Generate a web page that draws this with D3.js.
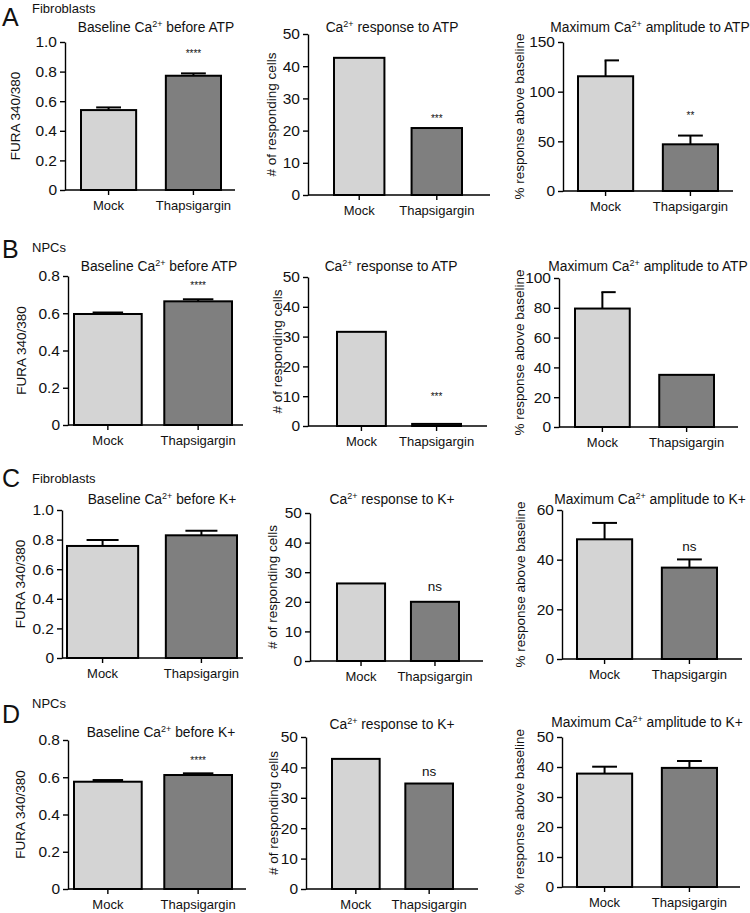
<!DOCTYPE html>
<html>
<head>
<meta charset="utf-8">
<script src="https://cdn.jsdelivr.net/npm/d3@7"></script>
<style>
  html, body { margin: 0; padding: 0; background: #fff; }
  svg { display: block; font-family: "Liberation Sans", Arial, Helvetica, sans-serif; }
</style>
</head>
<body>
<svg id="chart" width="750" height="913"></svg>
<script>
// ---------------- DATA ----------------
const categories = ["Mock", "Thapsigargin"];

const rowLetters = ["A", "B", "C", "D"];
const rowSubtitles = ["Fibroblasts", "NPCs", "Fibroblasts", "NPCs"];

const panelTitles = [
  "Baseline Ca2+ before ATP", "Ca2+ response to ATP", "Maximum Ca2+ amplitude to ATP",
  "Baseline Ca2+ before ATP", "Ca2+ response to ATP", "Maximum Ca2+ amplitude to ATP",
  "Baseline Ca2+ before K+", "Ca2+ response to K+", "Maximum Ca2+ amplitude to K+",
  "Baseline Ca2+ before K+", "Ca2+ response to K+", "Maximum Ca2+ amplitude to K+"
];

const yAxisLabels = [
  "FURA 340/380", "# of responding cells", "% response above baseline",
  "FURA 340/380", "# of responding cells", "% response above baseline",
  "FURA 340/380", "# of responding cells", "% response above baseline",
  "FURA 340/380", "# of responding cells", "% response above baseline"
];

const mockValues = [0.54, 42.6, 115.5, 0.596, 31.6, 79.5, 0.757, 26.2, 48.2, 0.576, 42.8, 37.8];
const thapValues = [0.772, 20.8, 47.0, 0.664, 0.7, 35.0, 0.829, 20.0, 36.8, 0.612, 34.7, 39.7];
const mockErrors = [0.018, null, 16.0, 0.008, null, 11.0, 0.040, null, 6.6, 0.009, null, 2.3];
const thapErrors = [0.016, null, 8.8, 0.011, null, null, 0.031, null, 3.3, 0.009, null, 2.3];

const yMaxima = [1.0, 50, 150, 0.8, 50, 100, 1.0, 50, 60, 0.8, 50, 50];
const yTickSteps = [0.2, 10, 50, 0.2, 10, 20, 0.2, 10, 20, 0.2, 10, 10];

const significance = ["****", "***", "**", "****", "***", "", "", "ns", "ns", "****", "ns", ""];

// ---------------- LAYOUT ----------------
// ax: y-axis x, ae: x-axis end, top/bot: plot vertical extent, bars: band range, pad: inner padding
// capRight: mock error-bar cap drawn to the right side only
const layout = [
  {ax: 65,  ae: 235, top: 42,  bot: 190, bars: [81, 221],  pad: 0.35, ylx: 15,  tx: 156, ty: 32,  sigOff: 20},
  {ax: 308, ae: 490, top: 34,  bot: 195, bars: [334, 462], pad: 0.35, ylx: 271, tx: 392, ty: 32,  sigOff: 10},
  {ax: 563, ae: 733, top: 42,  bot: 191, bars: [578, 718], pad: 0.35, ylx: 519, tx: 650, ty: 32,  sigOff: 20, capRight: true},
  {ax: 68,  ae: 243, top: 276, bot: 425, bars: [74, 232],  pad: 0.25, ylx: 21,  tx: 159, ty: 271, sigOff: 14},
  {ax: 308, ae: 487, top: 277, bot: 426, bars: [337, 461], pad: 0.35, ylx: 277, tx: 391, ty: 271, sigOff: 27},
  {ax: 559, ae: 738, top: 278, bot: 427, bars: [575, 714], pad: 0.35, ylx: 519, tx: 648, ty: 271, sigOff: 14, capRight: true},
  {ax: 62,  ae: 243, top: 510, bot: 658, bars: [67, 237],  pad: 0.28, ylx: 20,  tx: 162, ty: 504, sigOff: 14},
  {ax: 310, ae: 483, top: 513, bot: 661, bars: [337, 459], pad: 0.35, ylx: 272, tx: 392, ty: 504, sigOff: 15},
  {ax: 562, ae: 742, top: 510, bot: 659, bars: [577, 717], pad: 0.35, ylx: 520, tx: 650, ty: 504, sigOff: 13},
  {ax: 68,  ae: 246, top: 740, bot: 889, bars: [74, 232],  pad: 0.25, ylx: 20,  tx: 161, ty: 737, sigOff: 13},
  {ax: 306, ae: 478, top: 737, bot: 889, bars: [332, 453], pad: 0.35, ylx: 273, tx: 392, ty: 729, sigOff: 12},
  {ax: 562, ae: 740, top: 737, bot: 887, bars: [577, 717], pad: 0.35, ylx: 519, tx: 647, ty: 727, sigOff: 13}
];
const rowLabelPos = [
  {y: 26,  sy: 13},
  {y: 258, sy: 252},
  {y: 487, sy: 483},
  {y: 723, sy: 708}
];

const fills = {"Mock": "#d4d4d4", "Thapsigargin": "#7f7f7f"};

// ---------------- DRAW ----------------
const svg = d3.select("#chart");

rowLetters.forEach((L, i) => {
  svg.append("text").attr("x", 2).attr("y", rowLabelPos[i].y)
    .attr("font-size", 25).attr("fill", "#111").text(L);
  svg.append("text").attr("x", 32).attr("y", rowLabelPos[i].sy)
    .attr("font-size", 13).attr("fill", "#111").text(rowSubtitles[i]);
});

function addTitle(g, str, x, y) {
  const t = g.append("text").attr("x", x).attr("y", y)
    .attr("text-anchor", "middle").attr("font-size", 13.8).attr("fill", "#111");
  const parts = str.split("Ca2+");
  t.append("tspan").text(parts[0] + "Ca");
  t.append("tspan").attr("font-size", 9).attr("dy", -5).text("2+");
  t.append("tspan").attr("dy", 5).text(parts[1]);
}

layout.forEach((L, i) => {
  const g = svg.append("g");
  const y = d3.scaleLinear().domain([0, yMaxima[i]]).range([L.bot, L.top]);
  const x = d3.scaleBand().domain(categories).range(L.bars).paddingInner(L.pad).paddingOuter(0);
  const step = yTickSteps[i];
  const ticks = d3.range(0, yMaxima[i] + step / 2, step);
  const fmt = d => d === 0 ? "0" : (step < 1 ? d3.format(".1f")(d) : d3.format("d")(d));

  const rows = categories.map((c, k) => ({
    cat: c,
    k: k,
    v: k === 0 ? mockValues[i] : thapValues[i],
    e: k === 0 ? mockErrors[i] : thapErrors[i]
  }));

  // error bars (drawn before bars so the bar outline sits on top)
  const capW = x.bandwidth() * 0.45;
  rows.filter(r => r.e != null).forEach(r => {
    const cx = x(r.cat) + x.bandwidth() / 2;
    const oneSided = L.capRight && r.k === 0;
    g.append("line").attr("x1", cx).attr("x2", cx)
      .attr("y1", y(r.v)).attr("y2", y(r.v + r.e))
      .attr("stroke", "#000").attr("stroke-width", 2);
    g.append("line")
      .attr("x1", oneSided ? cx - 1 : cx - capW / 2)
      .attr("x2", oneSided ? cx + capW / 2 + 1 : cx + capW / 2)
      .attr("y1", y(r.v + r.e)).attr("y2", y(r.v + r.e))
      .attr("stroke", "#000").attr("stroke-width", 2);
  });

  g.selectAll("rect.bar").data(rows).join("rect")
    .attr("class", "bar")
    .attr("x", d => x(d.cat))
    .attr("width", x.bandwidth())
    .attr("y", d => y(d.v))
    .attr("height", d => L.bot - y(d.v))
    .attr("fill", d => fills[d.cat])
    .attr("stroke", "#000").attr("stroke-width", 2);

  // y axis
  const ya = g.append("g").attr("transform", `translate(${L.ax},0)`)
    .call(d3.axisLeft(y).tickValues(ticks).tickFormat(fmt).tickSize(5).tickSizeOuter(0).tickPadding(3));
  ya.select(".domain").attr("stroke", "#000").attr("stroke-width", 1.4);
  ya.selectAll(".tick line").attr("stroke", "#000").attr("stroke-width", 1.4);
  ya.selectAll(".tick text").attr("font-size", 15.5).attr("fill", "#111")
    .attr("font-family", "Liberation Sans, Arial, sans-serif");

  // x axis
  const xa = g.append("g").attr("transform", `translate(0,${L.bot})`)
    .call(d3.axisBottom(x).tickSize(5).tickSizeOuter(0).tickPadding(6));
  xa.select(".domain").remove();
  xa.selectAll(".tick line").attr("stroke", "#000").attr("stroke-width", 1.4);
  xa.selectAll(".tick text").attr("font-size", 13).attr("fill", "#111")
    .attr("font-family", "Liberation Sans, Arial, sans-serif");
  g.append("line").attr("x1", L.ax).attr("x2", L.ae).attr("y1", L.bot).attr("y2", L.bot)
    .attr("stroke", "#000").attr("stroke-width", 1.4);

  // y label
  g.append("text")
    .attr("transform", `translate(${L.ylx},${(L.top + L.bot) / 2}) rotate(-90)`)
    .attr("text-anchor", "middle").attr("dominant-baseline", "central")
    .attr("font-size", 13.5).attr("fill", "#111").text(yAxisLabels[i]);

  // title
  addTitle(g, panelTitles[i], L.tx, L.ty);

  // significance
  if (significance[i]) {
    const r = rows[1];
    const topVal = r.v + (r.e || 0);
    const isNs = significance[i] === "ns";
    g.append("text")
      .attr("x", x(r.cat) + x.bandwidth() / 2)
      .attr("y", y(topVal) - L.sigOff)
      .attr("text-anchor", "middle").attr("dominant-baseline", "central")
      .attr("font-size", isNs ? 13.5 : 10).attr("fill", "#111")
      .text(significance[i]);
  }
});
</script>
</body>
</html>
